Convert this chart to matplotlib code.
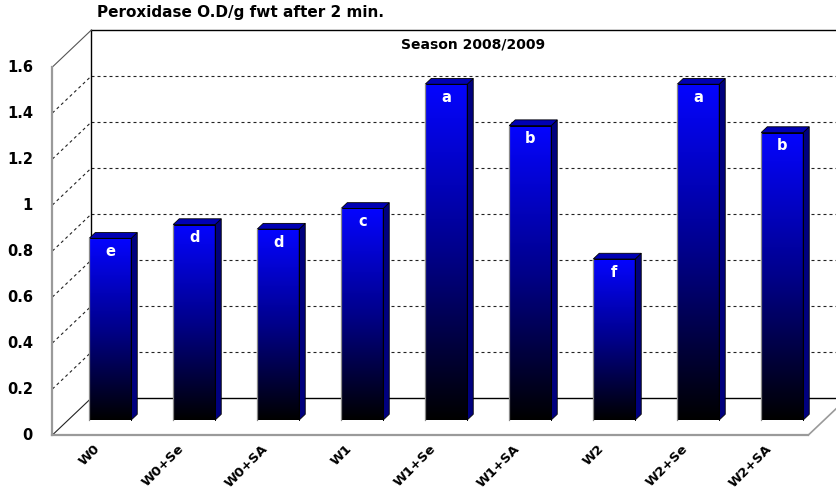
import numpy as np
import matplotlib
matplotlib.use("Agg")
import matplotlib.pyplot as plt
from matplotlib.patches import Polygon
from matplotlib.colors import LinearSegmentedColormap

# ---- data -------------------------------------------------------------
categories = ["W0", "W0+Se", "W0+SA", "W1", "W1+Se", "W1+SA", "W2", "W2+Se", "W2+SA"]
values = [0.79, 0.85, 0.83, 0.92, 1.46, 1.28, 0.70, 1.46, 1.25]
letters = ["e", "d", "d", "c", "a", "b", "f", "a", "b"]
yticks = [0, 0.2, 0.4, 0.6, 0.8, 1.0, 1.2, 1.4, 1.6]
ytick_labels = ["0", "0.2", "0.4", "0.6", "0.8", "1", "1.2", "1.4", "1.6"]
title = "Peroxidase O.D/g fwt after 2 min."
season = "Season 2008/2009"

# ---- figure / coordinate system ----------------------------------------
W, H, DPI = 837, 490, 100
fig = plt.figure(figsize=(W / DPI, H / DPI), dpi=DPI)
ax = fig.add_axes([0, 0, 1, 1])

px_per_cat, x0px = 84.0, 52.4      # category -0.5 sits at x0px
px_per_val, y0px = 230.0, 435.0    # value 0 sits y0px from the top
xlim = (-0.5 - x0px / px_per_cat, -0.5 + (W - x0px) / px_per_cat)
ylim = ((y0px - H) / px_per_val, y0px / px_per_val)

# oblique depth of the 3-D box, in data units
DX = 39.0 / px_per_cat
DY = 37.0 / px_per_val

n = len(categories)
xl, xr = -0.5, n - 0.5
ymax = yticks[-1]

bold = dict(family="DejaVu Sans", weight="bold")

# ---- walls and floor ----------------------------------------------------
ax.add_patch(Polygon([(xl, 0), (xl + DX, DY), (xl + DX, ymax + DY), (xl, ymax)],
                     closed=True, facecolor="white", edgecolor="none", zorder=0))
ax.add_patch(Polygon([(xl + DX, DY), (xr + DX, DY), (xr + DX, ymax + DY), (xl + DX, ymax + DY)],
                     closed=True, facecolor="white", edgecolor="none", zorder=0))
ax.add_patch(Polygon([(xl, 0), (xr, 0), (xr + DX, DY), (xl + DX, DY)],
                     closed=True, facecolor="white", edgecolor="none", zorder=0))

dash = (0, (2.7, 2.7))
for t in yticks[1:-1]:
    ax.plot([xl + DX, xr + DX], [t + DY, t + DY], color="#222222", lw=0.8,
            linestyle=dash, zorder=1)
    ax.plot([xl, xl + DX], [t, t + DY], color="#222222", lw=0.8,
            linestyle=dash, zorder=1)

# back wall frame
ax.plot([xl + DX, xr + DX], [ymax + DY, ymax + DY], color="black", lw=1.0, zorder=1)
ax.plot([xl + DX, xl + DX], [DY, ymax + DY], color="black", lw=1.0, zorder=1)
ax.plot([xl + DX, xr + DX], [DY, DY], color="black", lw=1.0, zorder=1)
# side wall edges
ax.plot([xl, xl + DX], [ymax, ymax + DY], color="#555555", lw=0.8, zorder=1)
ax.plot([xl, xl + DX], [0, DY], color="#222222", lw=0.8, zorder=1)
ax.plot([xl, xl], [0, ymax], color="#9a9a9a", lw=1.6, zorder=1)
# floor front and right edges
ax.plot([xl, xr], [0, 0], color="#9a9a9a", lw=1.6, zorder=1)
ax.plot([xr, xr + DX], [0, DY], color="#9a9a9a", lw=1.2, zorder=1)

# ---- bars -----------------------------------------------------------------
grad_cmap = LinearSegmentedColormap.from_list("bar", ["#000000", "#00008a", "#0505ff"])
gradient = np.linspace(0, 1, 256).reshape(-1, 1)

f0 = 0.405           # depth position of the bar fronts
fd = 0.155           # bar depth
ox, oy = f0 * DX, f0 * DY
sx, sy = fd * DX, fd * DY
bw = 0.5

for i, (v, lab) in enumerate(zip(values, letters)):
    z = 3 + i
    bx0 = i + ox - bw / 2
    bx1 = bx0 + bw
    by0 = oy
    by1 = oy + v
    ax.imshow(gradient, extent=[bx0, bx1, by0, by1], origin="lower",
              cmap=grad_cmap, aspect="auto", interpolation="bilinear", zorder=z)
    ax.add_patch(Polygon([(bx1, by0), (bx1 + sx, by0 + sy), (bx1 + sx, by1 + sy), (bx1, by1)],
                         closed=True, facecolor="#00007e", edgecolor="black", lw=0.6, zorder=z))
    ax.add_patch(Polygon([(bx0, by1), (bx1, by1), (bx1 + sx, by1 + sy), (bx0 + sx, by1 + sy)],
                         closed=True, facecolor="#0000b4", edgecolor="black", lw=0.6, zorder=z))
    ax.plot([bx0, bx1, bx1], [by1, by1, by0], color="black", lw=0.7, zorder=z + 0.1)
    ax.plot([bx0, bx0], [by0, by1], color="#8a8a8a", lw=0.9, zorder=z + 0.1)
    ax.text(i + ox, by1 - 13 / px_per_val, lab, color="white", fontsize=10.5,
            ha="center", va="center", zorder=z + 0.2, **bold)

# ---- axis labels ------------------------------------------------------------
for t, lab in zip(yticks, ytick_labels):
    ax.text(xl - 19.5 / px_per_cat, t, lab, ha="right", va="center",
            fontsize=10.5, **bold)

for i, cat in enumerate(categories):
    ax.text(i + 0.04, -0.052, cat, rotation=45, rotation_mode="anchor",
            ha="right", va="center", fontsize=9.5, **bold)

fig.text(97 / W, 1 - 13 / H, title, ha="left", va="center", fontsize=11, **bold)
fig.text(473 / W, 1 - 45 / H, season, ha="center", va="center", fontsize=10, **bold)

ax.set_xlim(*xlim)
ax.set_ylim(*ylim)
ax.axis("off")

fig.savefig("out.png", dpi=DPI)
